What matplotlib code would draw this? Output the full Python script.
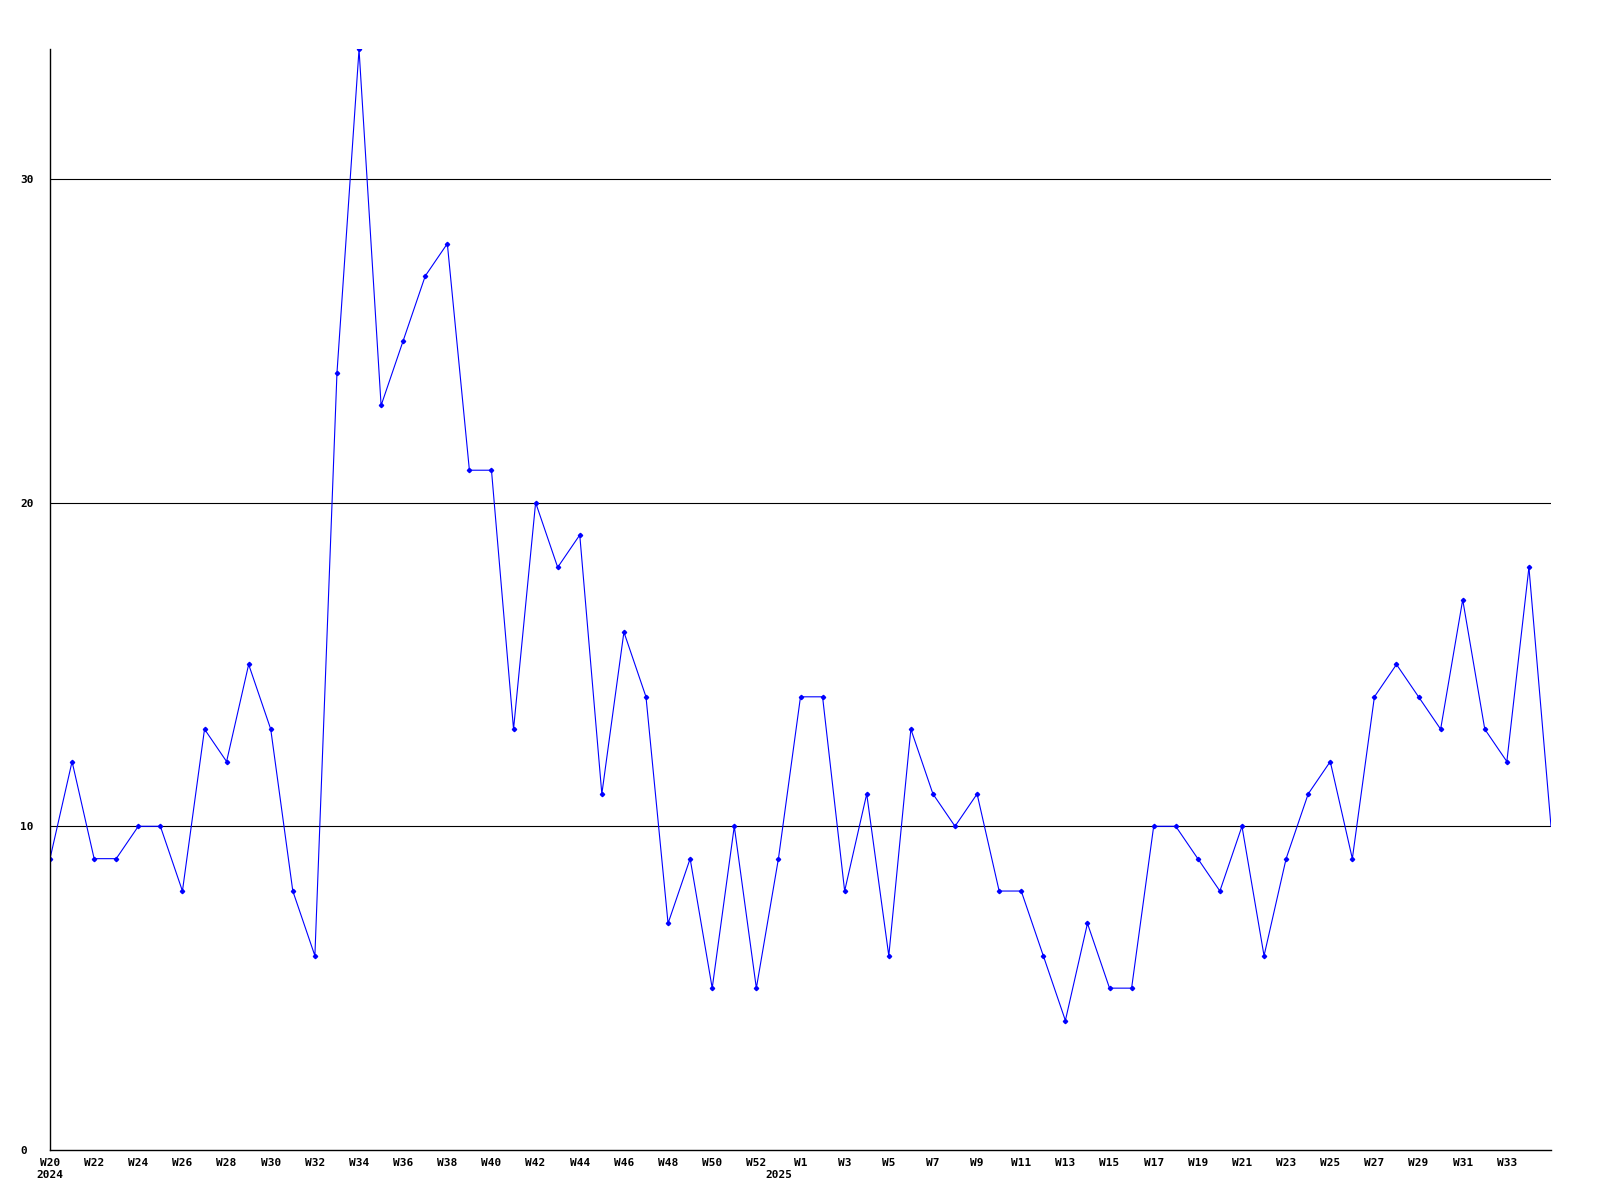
import numpy as np
import matplotlib
matplotlib.use('Agg')
import matplotlib.pyplot as plt

# weekly counts, W20 2024 .. W35 2025 (one extra week at the year end)
values = [9, 12, 9, 9, 10, 10, 8, 13, 12, 15, 13, 8, 6, 24, 34, 23, 25, 27, 28, 21,
          21, 13, 20, 18, 19, 11, 16, 14, 7, 9, 5, 10, 5, 9, 14, 14, 8, 11, 6, 13,
          11, 10, 11, 8, 8, 6, 4, 7, 5, 5, 10, 10, 9, 8, 10, 6, 9, 11, 12, 9,
          14, 15, 14, 13, 17, 13, 12, 18, 10]
weeks_2024 = ['W%d' % w for w in range(20, 53)] + ['W53']
weeks_2025 = ['W%d' % w for w in range(1, 36)]
week_names = weeks_2024 + weeks_2025
year_marks = {0: '2024', 33: '2025'}
y_ticks = [0, 10, 20, 30]

x = np.arange(len(values))

fig = plt.figure(figsize=(16, 12), dpi=100)
ax = fig.add_axes([50/1600, 1 - 1150/1200, 1501/1600, 1100.6/1200])

ax.plot(x[:-1], values[:-1], color='#0000ff', lw=0.8, marker='D', ms=2.2,
        mec='#0000ff', mfc='#0000ff')
ax.plot(x[-2:], values[-2:], color='#0000ff', lw=0.8)

for v in y_ticks[1:]:
    ax.axhline(v, color='black', lw=0.8, zorder=0)

ax.set_xlim(0, len(values) - 1)
ax.set_ylim(0, 34)

for s in ['top', 'right']:
    ax.spines[s].set_visible(False)
for s in ['left', 'bottom']:
    ax.spines[s].set_color('black')
    ax.spines[s].set_linewidth(1.0)

font = dict(family='DejaVu Sans Mono', weight='bold', size=8)

ax.set_yticks(y_ticks)
ax.set_yticklabels([str(v) for v in y_ticks], **font)
for t in ax.get_yticklabels():
    t.set_ha('left')
ax.tick_params(axis='y', length=0, pad=21.6)

ticks, labels = [], []
for i, name in enumerate(week_names):
    show = (i <= 32 and i % 2 == 0) or (i >= 34 and (i - 34) % 2 == 0 and i < 67)
    if show or i in year_marks:
        ticks.append(i)
        lab = name if show else ''
        if i in year_marks:
            lab = lab + '\n' + year_marks[i]
        labels.append(lab)
ax.set_xticks(ticks)
ax.set_xticklabels(labels, linespacing=1.25, **font)
ax.tick_params(axis='x', length=0, pad=6)

fig.savefig('out.png', dpi=100)
